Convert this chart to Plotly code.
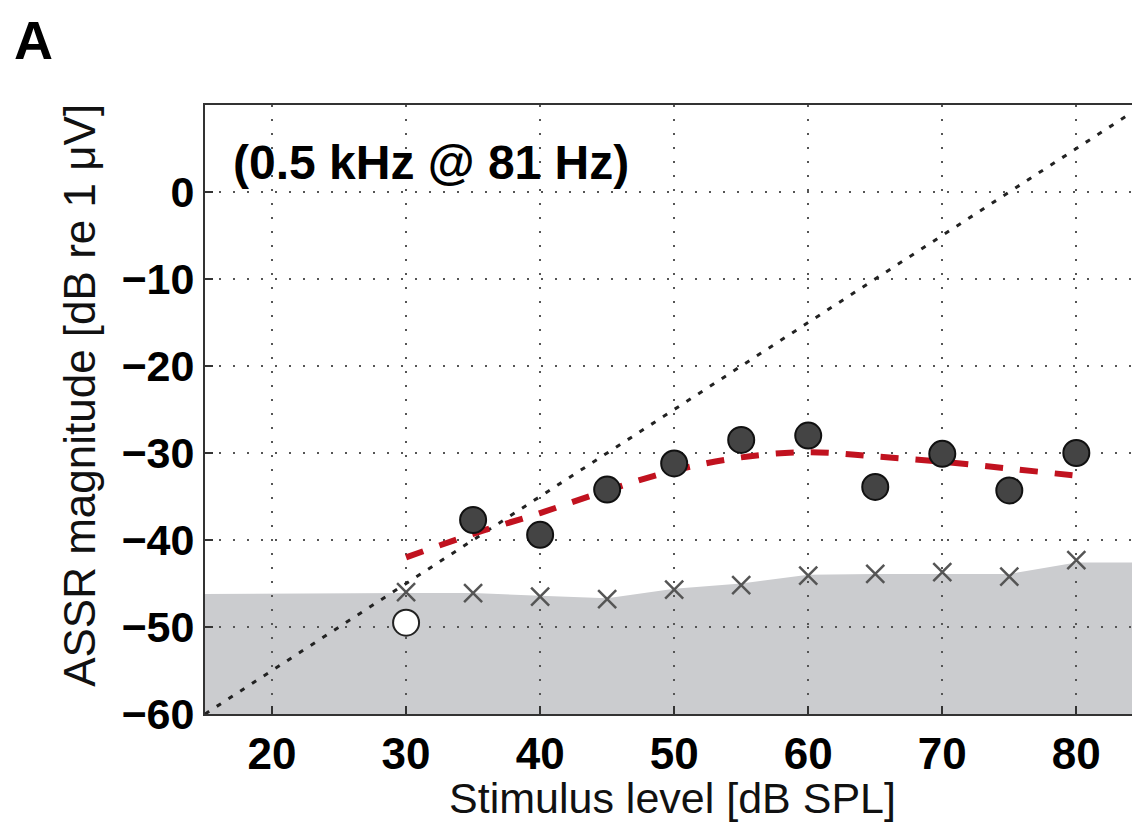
import plotly.graph_objects as go

# ---- data ----
levels = [30, 35, 40, 45, 50, 55, 60, 65, 70, 75, 80]
resp_sig_x = [35, 40, 45, 50, 55, 60, 65, 70, 75, 80]
resp_sig_y = [-37.7, -39.4, -34.2, -31.2, -28.5, -28.0, -33.9, -30.1, -34.3, -30.0]
resp_ns_x = [30]
resp_ns_y = [-49.5]
noise_y = [-46.0, -46.1, -46.5, -46.8, -45.7, -45.2, -44.1, -43.9, -43.7, -44.2, -42.3]
fit_y = [-42.0, -39.3, -36.9, -34.3, -32.0, -30.5, -29.9, -30.4, -31.0, -31.8, -32.6]
floor_x = [15, 30, 35, 40, 45, 50, 55, 60, 65, 70, 75, 80, 85]
floor_y = [-46.2, -46.1, -46.1, -46.4, -46.7, -45.6, -45.0, -44.0, -43.9, -43.9, -43.9, -42.6, -42.6]
ref_x = [15, 85]
ref_y = [-60, 10]
x_ticks = [20, 30, 40, 50, 60, 70, 80]
y_ticks = [0, -10, -20, -30, -40, -50, -60]
y_tick_text = ["0", "\u221210", "\u221220", "\u221230", "\u221240", "\u221250", "\u221260"]

FONT = "Liberation Sans"
y_min, y_max = -60, 10
x_min, x_max = 15, 84.75

fig = go.Figure()

# noise-floor shaded region (as shape, below the grid)
path = f"M {floor_x[0]},{y_min} " + " ".join(f"L {x},{y}" for x, y in zip(floor_x, floor_y)) + f" L {floor_x[-1]},{y_min} Z"
fig.add_shape(type="path", path=path, xref="x", yref="y", layer="below",
              fillcolor="#cbcccf", line=dict(width=0))

# 1 dB/dB reference line
fig.add_trace(go.Scatter(x=ref_x, y=ref_y, mode="lines",
                         line=dict(color="#222222", width=3, dash="5px,9px"),
                         showlegend=False, hoverinfo="skip"))

# fitted curve
fig.add_trace(go.Scatter(x=levels, y=fit_y, mode="lines", line_shape="spline",
                         line=dict(color="#c1121f", width=6, dash="18px,17px"),
                         showlegend=False))

# noise estimates
fig.add_trace(go.Scatter(x=levels, y=noise_y, mode="markers",
                         marker=dict(symbol="x-thin", size=18, line=dict(color="#555555", width=2.5)),
                         showlegend=False))

# non-significant response
fig.add_trace(go.Scatter(x=resp_ns_x, y=resp_ns_y, mode="markers",
                         marker=dict(symbol="circle", size=26, color="white",
                                     line=dict(color="#222222", width=2)),
                         showlegend=False))

# significant responses
fig.add_trace(go.Scatter(x=resp_sig_x, y=resp_sig_y, mode="markers",
                         marker=dict(symbol="circle", size=26, color="#444444",
                                     line=dict(color="#111111", width=2)),
                         showlegend=False))

fig.update_xaxes(range=[x_min, x_max], tickvals=x_ticks, ticks="inside", ticklen=8, tickwidth=2,
                 tickcolor="#333333", showline=True, linecolor="#333333", linewidth=2, mirror=True,
                 showgrid=True, gridcolor="#555555", gridwidth=2, griddash="2px,12px",
                 zeroline=False, tickfont=dict(family=FONT, size=44, color="black", weight="bold"),
                 ticklabelstandoff=0)
fig.update_yaxes(range=[y_min, y_max], tickvals=y_ticks, ticktext=y_tick_text, ticks="inside", ticklen=8,
                 tickwidth=2, tickcolor="#333333", showline=True, linecolor="#333333", linewidth=2,
                 mirror=False, showgrid=True, gridcolor="#555555", gridwidth=2, griddash="2px,12px",
                 zeroline=False, tickfont=dict(family=FONT, size=43, color="black", weight="bold"),
                 ticklabelstandoff=0)

fig.add_annotation(text="(0.5 kHz @ 81 Hz)", xref="paper", yref="paper", x=0.028, y=0.905,
                   xanchor="left", yanchor="middle", showarrow=False,
                   font=dict(family=FONT, size=48, color="black", weight="bold"))
fig.add_annotation(text="A", xref="paper", yref="paper", x=-0.183, y=1.158,
                   xanchor="center", yanchor="top", showarrow=False, borderpad=0,
                   font=dict(family=FONT, size=54, color="black", weight="bold"))
fig.add_annotation(text="Stimulus level [dB SPL]", xref="paper", yref="paper", x=0.5, y=-0.138,
                   xanchor="center", yanchor="middle", showarrow=False,
                   font=dict(family=FONT, size=43, color="#111111"))
fig.add_annotation(text="ASSR magnitude [dB re 1 \u03bcV]", xref="paper", yref="paper", x=-0.1337, y=0.524,
                   xanchor="center", yanchor="middle", showarrow=False, textangle=-90,
                   font=dict(family=FONT, size=44, color="#111111"))

fig.update_layout(width=1132, height=819, margin=dict(l=197, r=0, t=97, b=113),
                  paper_bgcolor="white", plot_bgcolor="white", showlegend=False)

fig.write_html("out.html")
